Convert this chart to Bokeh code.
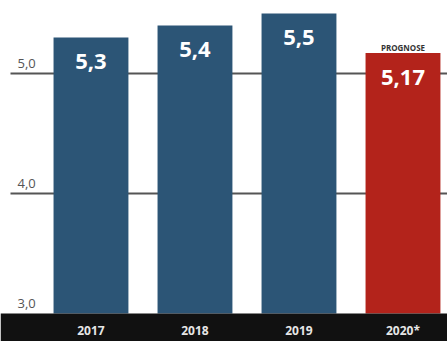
from bokeh.plotting import figure
from bokeh.models import Range1d, ColumnDataSource
from bokeh.core.properties import value
from bokeh.embed import file_html
from bokeh.resources import INLINE

years = ["2017", "2018", "2019", "2020*"]
values = [5.3, 5.4, 5.5, 5.17]
labels = ["5,3", "5,4", "5,5", "5,17"]
colors = ["#2c5576", "#2c5576", "#2c5576", "#b3231b"]
ticks = [5.0, 4.0, 3.0]
tick_labels = ["5,0", "4,0", "3,0"]
grid_values = [5.0, 4.0]

W, H = 447, 341
FONT = value("Open Sans")

x_start, x_end = -0.87, 3.428
y_start, y_end = 2.767, 5.608
base = 3.0

p = figure(width=W, height=H, output_backend="svg", toolbar_location=None,
           x_range=Range1d(x_start, x_end), y_range=Range1d(y_start, y_end),
           min_border=0, min_border_left=0, min_border_right=0,
           min_border_top=0, min_border_bottom=0)
p.axis.visible = False
p.grid.visible = False
p.outline_line_color = None
p.background_fill_color = "white"
p.border_fill_color = "white"

xs = list(range(len(years)))
px_per_x = W / (x_end - x_start)

# grid lines
p.segment(x0=[x_start + 10 / px_per_x] * len(grid_values), x1=[x_end] * len(grid_values),
          y0=grid_values, y1=grid_values, line_color="#555555", line_width=2)

src = ColumnDataSource(dict(x=xs, top=values, label=labels, color=colors, year=years))
p.vbar(x="x", top="top", bottom=base, width=0.72, fill_color="color", line_color=None, source=src)

# value labels
p.text(x="x", y="top", text="label", source=src, text_color="white", text_font=FONT,
       text_font_style="bold", text_font_size="22px", text_align="center",
       text_baseline="alphabetic", y_offset=24)

# PROGNOSE
p.text(x=[xs[-1]], y=[values[-1]], text=["PROGNOSE"], text_color="#333333", text_font=FONT,
       text_font_style="bold", text_font_size="8px", text_align="center",
       text_baseline="alphabetic", y_offset=-6)

# tick labels
p.text(x=[x_start] * len(ticks), y=ticks, text=tick_labels, text_color="#555555", text_font=FONT,
       text_font_size="13px", text_align="left", text_baseline="alphabetic",
       x_offset=17, y_offset=-10)

# black band along the bottom
p.quad(left=[x_start], right=[x_end], bottom=[y_start], top=[base],
       fill_color="#111111", line_color=None)

p.text(x="x", y=base, text="year", source=src, text_color="#e6e6e6", text_font=FONT,
       text_font_style="bold", text_font_size="12px", text_align="center",
       text_baseline="alphabetic", y_offset=17)

open("out.html", "w").write(file_html(p, INLINE))
